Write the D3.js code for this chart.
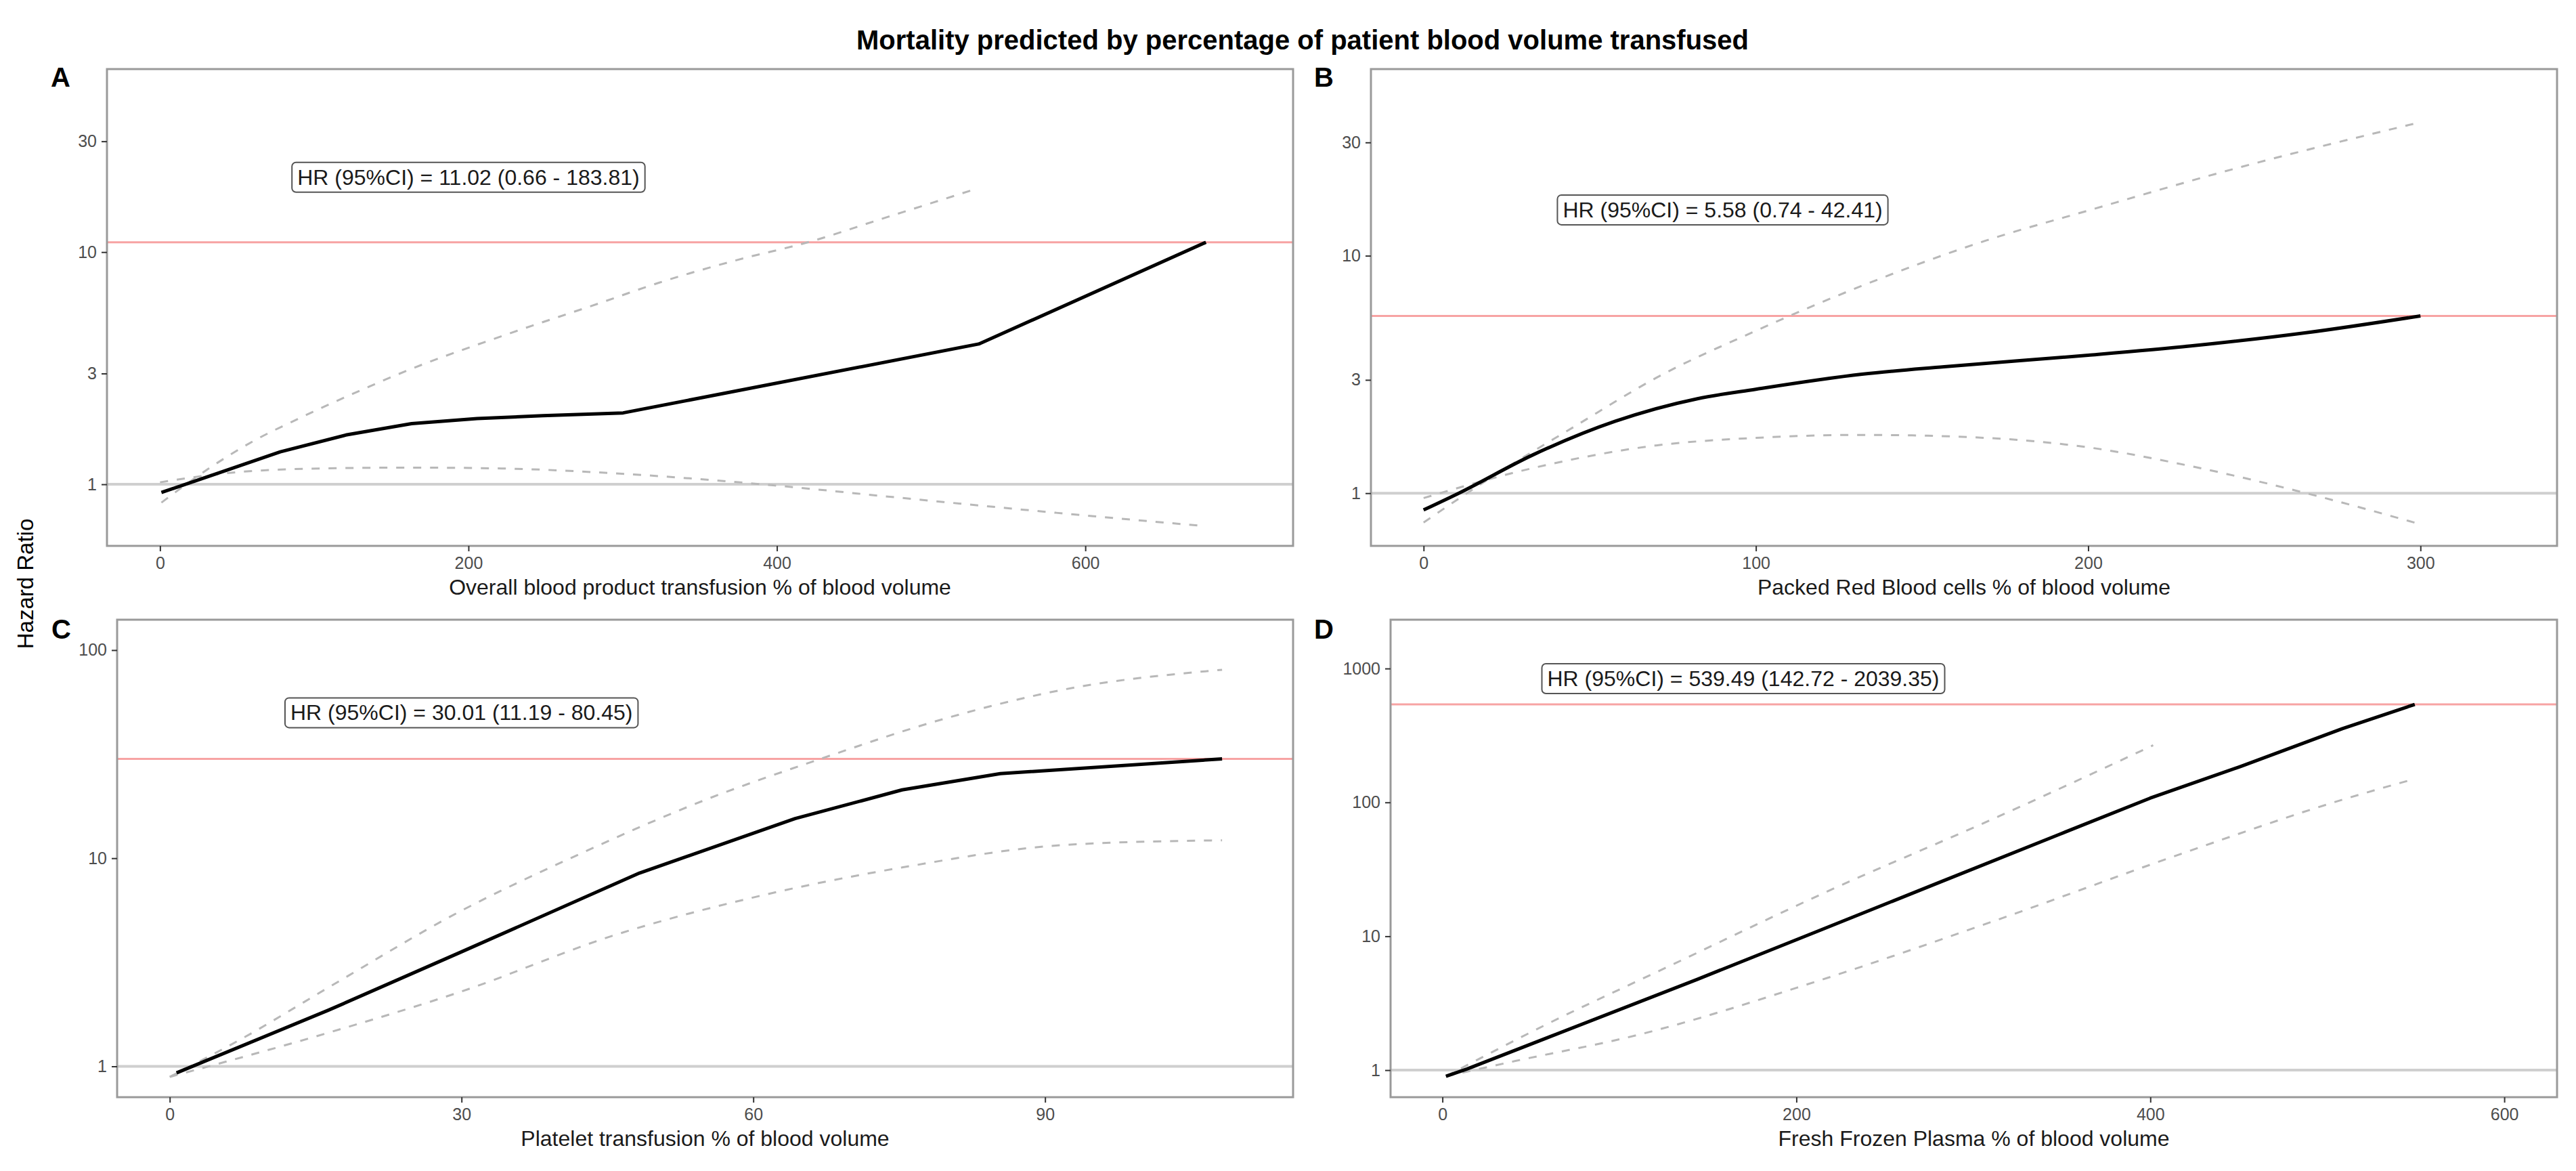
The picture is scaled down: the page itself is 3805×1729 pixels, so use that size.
<!DOCTYPE html>
<html lang="en">
<head>
  <meta charset="UTF-8">
  <title>Mortality predicted by percentage of patient blood volume transfused</title>
  <script src="https://d3js.org/d3.v7.min.js"></script>
  <style>
    body { margin: 0; padding: 0; background: #fff; }
    svg { display: block; font-family: Arial, "Liberation Sans", Helvetica, sans-serif; }
    .tick line { stroke: #333; stroke-width: 2; }
    .tick text { fill: #4d4d4d; font-size: 25px; }
  </style>
</head>
<body>
  <div id="chart"></div>

  <script>
    // ---- chart text ----
    const mainTitle = "Mortality predicted by percentage of patient blood volume transfused";
    const yTitle = "Hazard Ratio";
    const panelLetters = ["A", "B", "C", "D"];
    const xTitles = [
      "Overall blood product transfusion % of blood volume",
      "Packed Red Blood cells % of blood volume",
      "Platelet transfusion % of blood volume",
      "Fresh Frozen Plasma % of blood volume"
    ];
    const hrLabels = [
      "HR (95%CI) = 11.02 (0.66 - 183.81)",
      "HR (95%CI) = 5.58 (0.74 - 42.41)",
      "HR (95%CI) = 30.01 (11.19 - 80.45)",
      "HR (95%CI) = 539.49 (142.72 - 2039.35)"
    ];
    const hrValues = [11.02, 5.58, 30.01, 539.49];

    // label anchor (data units)
    const labelX = [200, 90, 30, 170];
    const labelY = [21, 15.6, 50, 841];

    // ---- tick labels ----
    const xTicksA = [0, 200, 400, 600];
    const xTicksB = [0, 100, 200, 300];
    const xTicksC = [0, 30, 60, 90];
    const xTicksD = [0, 200, 400, 600];
    const yTicksA = [1, 3, 10, 30];
    const yTicksB = [1, 3, 10, 30];
    const yTicksC = [1, 10, 100];
    const yTicksD = [1, 10, 100, 1000];

    // axis limits
    const xLimA = [-34.4, 734.7], yLimA = [0.543, 61.4];
    const xLimB = [-15.85, 341.1], yLimB = [0.60, 61.1];
    const xLimC = [-5.41, 115.5], yLimC = [0.711, 140];
    const xLimD = [-29.3, 629.8], yLimD = [0.628, 2316];

    // ---- A: overall blood product ----
    const fitAx = [0.9, 35.4, 78, 120.5, 163.1, 205.6, 248.2, 300.3, 530.9, 678.2];
    const fitAy = [0.922, 1.103, 1.38, 1.63, 1.825, 1.92, 1.974, 2.03, 4.02, 11.02];
    const upAx = [0.9, 33.3, 60.9, 90.7, 122.3, 161.9, 222.6, 284.8, 323.8, 374.3, 420.9, 467, 529];
    const upAy = [0.834, 1.19, 1.54, 1.93, 2.41, 3.12, 4.37, 6.02, 7.39, 9.25, 11.06, 13.84, 18.7];
    const loAx = [0, 44.9, 103.7, 162.5, 221.3, 299.6, 397.6, 476, 581, 678.2];
    const loAy = [1.02, 1.12, 1.17, 1.18, 1.17, 1.11, 0.99, 0.88, 0.754, 0.66];

    // ---- B: packed red blood cells ----
    const fitBx = [0, 10.6, 32.9, 57.7, 82.4, 100, 131.9, 156.7, 200, 230.9, 265.6, 300];
    const fitBy = [0.85, 1.0, 1.45, 2.01, 2.50, 2.74, 3.17, 3.41, 3.81, 4.17, 4.74, 5.58];
    const upBx = [0, 20.5, 45.3, 70, 100, 131.9, 169.1, 200, 243.3, 300];
    const upBy = [0.753, 1.17, 1.905, 3.06, 4.83, 7.47, 11.57, 15.5, 23.1, 36.5];
    const loBx = [0, 32.9, 70, 100, 131.9, 169.1, 200, 230.9, 265.6, 300];
    const loBy = [0.954, 1.276, 1.589, 1.71, 1.76, 1.71, 1.56, 1.30, 1.0, 0.74];

    // ---- C: platelets ----
    const fitCx = [0.7, 16.3, 30, 48.3, 64.3, 75.3, 85.4, 108.2];
    const fitCy = [0.93, 1.86, 3.55, 8.49, 15.5, 21.3, 25.5, 30.01];
    const upCx = [0, 7.8, 16.3, 30, 41.6, 55.1, 66.9, 79.5, 92.2, 108.2];
    const upCy = [0.89, 1.39, 2.39, 5.6, 10.2, 19.1, 30, 46.6, 65, 80.45];
    const loCx = [0, 16.3, 30, 45.8, 60, 75.3, 92.2, 108.2];
    const loCy = [0.89, 1.45, 2.29, 4.28, 6.48, 9.03, 11.6, 12.2];

    // ---- D: fresh frozen plasma ----
    const fitDx = [2, 13.9, 143.7, 212, 280.3, 348.6, 399.9, 451.1, 508.5, 549.4];
    const fitDy = [0.90, 1.02, 4.75, 10.9, 25.1, 57.7, 107.6, 185.8, 355.6, 539.49];
    const upDx = [2, 58.3, 126.6, 217.1, 314.5, 401.6];
    const upDy = [0.90, 2.18, 5.85, 21.5, 78.8, 267];
    const loDx = [2, 41.2, 109.5, 212, 314.5, 417, 508.5, 549.4];
    const loDy = [0.90, 1.17, 1.82, 4.63, 13.4, 41.1, 104.7, 150];

    const W = 3805, H = 1729;

    // panel boxes (pixels) and their series
    const panels = [
      { box: [158, 102, 1910, 806], lx: 75, ly: 128, xLim: xLimA, yLim: yLimA, xt: xTicksA, yt: yTicksA,
        fit: [fitAx, fitAy], up: [upAx, upAy], lo: [loAx, loAy], fitCurve: d3.curveLinear },
      { box: [2025, 102, 3777, 806], lx: 1941, ly: 128, xLim: xLimB, yLim: yLimB, xt: xTicksB, yt: yTicksB,
        fit: [fitBx, fitBy], up: [upBx, upBy], lo: [loBx, loBy], fitCurve: d3.curveMonotoneX },
      { box: [173, 915, 1910, 1620], lx: 76, ly: 943, xLim: xLimC, yLim: yLimC, xt: xTicksC, yt: yTicksC,
        fit: [fitCx, fitCy], up: [upCx, upCy], lo: [loCx, loCy], fitCurve: d3.curveLinear },
      { box: [2054, 915, 3777, 1620], lx: 1941, ly: 943, xLim: xLimD, yLim: yLimD, xt: xTicksD, yt: yTicksD,
        fit: [fitDx, fitDy], up: [upDx, upDy], lo: [loDx, loDy], fitCurve: d3.curveLinear }
    ];

    const svg = d3.select("#chart")
      .append("svg")
      .attr("width", W)
      .attr("height", H);

    svg.append("text")
      .attr("x", 1924)
      .attr("y", 73)
      .attr("text-anchor", "middle")
      .attr("font-size", 40)
      .attr("font-weight", "bold")
      .attr("fill", "#000")
      .text(mainTitle);

    svg.append("text")
      .attr("transform", "translate(49, 862) rotate(-90)")
      .attr("text-anchor", "middle")
      .attr("font-size", 33)
      .attr("fill", "#000")
      .text(yTitle);

    const zip = (xs, ys) => xs.map((x, i) => [x, ys[i]]);

    panels.forEach((p, i) => {
      const [x0, y0, x1, y1] = p.box;
      const x = d3.scaleLinear().domain(p.xLim).range([x0, x1]);
      const y = d3.scaleLog().domain(p.yLim).range([y1, y0]);

      const clipId = "clip" + i;
      svg.append("clipPath").attr("id", clipId)
        .append("rect")
        .attr("x", x0).attr("y", y0)
        .attr("width", x1 - x0).attr("height", y1 - y0);

      const g = svg.append("g").attr("clip-path", `url(#${clipId})`);

      // reference lines
      g.append("line")
        .attr("x1", x0).attr("x2", x1)
        .attr("y1", y(1)).attr("y2", y(1))
        .attr("stroke", "#cfcfcf")
        .attr("stroke-width", 4);

      g.append("line")
        .attr("x1", x0).attr("x2", x1)
        .attr("y1", y(hrValues[i])).attr("y2", y(hrValues[i]))
        .attr("stroke", "#f7a3a3")
        .attr("stroke-width", 3);

      const dashed = d3.line()
        .x(d => x(d[0]))
        .y(d => y(d[1]))
        .curve(d3.curveMonotoneX);

      [p.up, p.lo].forEach(s => {
        g.append("path")
          .datum(zip(s[0], s[1]))
          .attr("d", dashed)
          .attr("fill", "none")
          .attr("stroke", "#b8b8b8")
          .attr("stroke-width", 3)
          .attr("stroke-dasharray", "12,13");
      });

      const solid = d3.line()
        .x(d => x(d[0]))
        .y(d => y(d[1]))
        .curve(p.fitCurve);

      g.append("path")
        .datum(zip(p.fit[0], p.fit[1]))
        .attr("d", solid)
        .attr("fill", "none")
        .attr("stroke", "#000")
        .attr("stroke-width", 5)
        .attr("stroke-linejoin", "round");

      // panel border
      svg.append("rect")
        .attr("x", x0).attr("y", y0)
        .attr("width", x1 - x0).attr("height", y1 - y0)
        .attr("fill", "none")
        .attr("stroke", "#9a9a9a")
        .attr("stroke-width", 3);

      // axes
      const xAxis = svg.append("g")
        .attr("transform", `translate(0, ${y1})`)
        .call(d3.axisBottom(x).tickValues(p.xt).tickSize(8).tickPadding(8).tickFormat(d3.format("d")));
      xAxis.select(".domain").remove();

      const yAxis = svg.append("g")
        .attr("transform", `translate(${x0}, 0)`)
        .call(d3.axisLeft(y).tickValues(p.yt).tickSize(8).tickPadding(7).tickFormat(d3.format("d")));
      yAxis.select(".domain").remove();

      svg.selectAll(".tick text").attr("font-family", null).attr("font-size", null);

      // x title
      svg.append("text")
        .attr("x", (x0 + x1) / 2)
        .attr("y", y1 + 72)
        .attr("text-anchor", "middle")
        .attr("font-size", 32)
        .attr("fill", "#1a1a1a")
        .text(xTitles[i]);

      // panel letter
      svg.append("text")
        .attr("x", p.lx)
        .attr("y", p.ly)
        .attr("font-size", 40)
        .attr("font-weight", "bold")
        .attr("fill", "#000")
        .text(panelLetters[i]);

      // HR label
      const lg = svg.append("g");
      const t = lg.append("text")
        .attr("x", x(labelX[i]))
        .attr("y", y(labelY[i]))
        .attr("text-anchor", "middle")
        .attr("dominant-baseline", "central")
        .attr("font-size", 32)
        .attr("fill", "#1a1a1a")
        .text(hrLabels[i]);
      const bb = t.node().getBBox();
      lg.insert("rect", "text")
        .attr("x", bb.x - 8)
        .attr("y", y(labelY[i]) - 22)
        .attr("width", bb.width + 16)
        .attr("height", 44)
        .attr("rx", 6)
        .attr("fill", "#fff")
        .attr("stroke", "#555")
        .attr("stroke-width", 2);
    });
  </script>
</body>
</html>
